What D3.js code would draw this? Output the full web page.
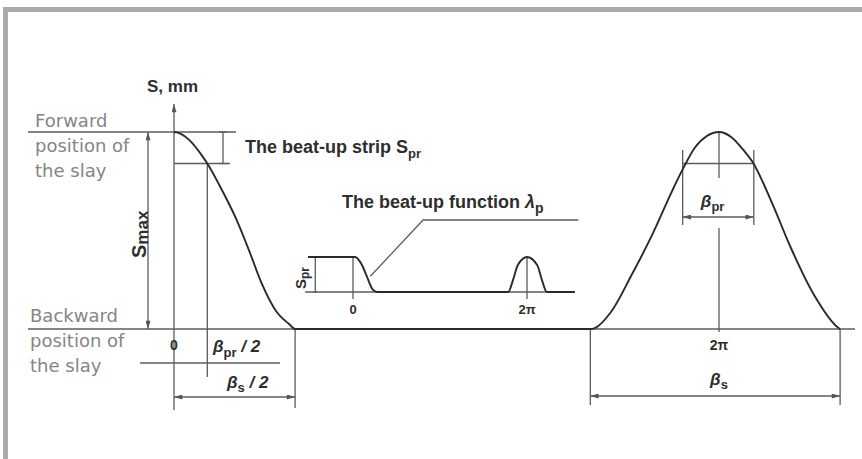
<!DOCTYPE html>
<html lang="en">
<head>
<meta charset="UTF-8">
<script src="https://d3js.org/d3.v7.min.js"></script>
<title>Slay motion and beat-up function</title>
<style>
  body { margin: 0; background: #fff; }
  svg { display: block; }
  .thin { stroke: #5c5c5c; stroke-width: 1.3; fill: none; }
  .curve { stroke: #2a2a2a; stroke-width: 1.9; fill: none; }
  .side { font-family: "DejaVu Sans", sans-serif; font-size: 18px; fill: #858585; }
  .bold { font-family: "Liberation Sans", Arial, sans-serif; font-weight: bold; fill: #2e2e2e; }
</style>
</head>
<body>
<div id="chart"></div>
<script>
const width = 862, height = 459;

// slay displacement, main cycle: crank angle (deg) vs % of Smax
const leftAngle = [0, 2, 10, 18.5, 22, 30, 41, 50, 58, 67.5, 76, 80];
const leftS     = [100, 99.8, 96, 88, 84, 73, 56, 39, 23, 9, 2.5, 0];
const bellAngle = [275, 278, 289, 302, 316, 329, 336, 344, 352, 360, 368, 376, 382, 395, 407, 423, 439, 440];
const bellS     = [0, 0.5, 9, 27, 48, 70, 81, 92, 98, 100, 97.5, 91, 85, 64, 42, 17, 0.5, 0];

// beat-up function (inset): angle vs lambda_p (share of Spr)
const beatAngle  = [-93, 4, 18.6, 29, 41.4, 50, 321, 331, 341, 360, 381, 391, 401, 459];
const beatLambda = [1, 1, 0.77, 0.43, 0.06, 0, 0, 0.34, 0.77, 1, 0.77, 0.34, 0, 0];

// dimensions (deg / % Smax) and tick labels
const betaPrHalf = 22;
const betaSHalf = 80;
const betaPr = [336, 383];
const betaS = [275, 440];
const sPrLevel = 84;
const tickAngles = [0, 360];
const tickLabels = ["0", "2π"];

const x = d3.scaleLinear().domain([0, 360]).range([174, 719]);
const y = d3.scaleLinear().domain([0, 100]).range([329, 132]);
const xi = d3.scaleLinear().domain([0, 360]).range([353, 527]);
const yi = d3.scaleLinear().domain([0, 1]).range([292, 257]);

const svg = d3.select("#chart").append("svg")
    .attr("width", width)
    .attr("height", height);

const defs = svg.append("defs");
defs.append("marker")
    .attr("id", "arr")
    .attr("viewBox", "0 0 10 6")
    .attr("refX", 10).attr("refY", 3)
    .attr("markerWidth", 9).attr("markerHeight", 5)
    .attr("markerUnits", "userSpaceOnUse")
    .attr("orient", "auto-start-reverse")
    .append("path")
    .attr("d", "M0,0 L10,3 L0,6 Z")
    .attr("fill", "#555");

// frame
svg.append("rect").attr("x", 3).attr("y", 7).attr("width", width - 3).attr("height", 5).attr("fill", "#ababab");
svg.append("rect").attr("x", 3).attr("y", 7).attr("width", 5).attr("height", height - 7).attr("fill", "#ababab");

function seg(x1, y1, x2, y2, arrows) {
    const l = svg.append("line")
        .attr("class", "thin")
        .attr("x1", x1).attr("y1", y1)
        .attr("x2", x2).attr("y2", y2);
    if (arrows) {
        l.attr("marker-start", "url(#arr)").attr("marker-end", "url(#arr)");
    }
    return l;
}

// forward / backward positions
seg(28, y(100), x(0) + 62, y(100));
seg(28, y(0), 855, y(0));

// S axis
svg.append("line")
    .attr("class", "thin")
    .attr("x1", x(0)).attr("y1", 410)
    .attr("x2", x(0)).attr("y2", 104)
    .attr("marker-end", "url(#arr)");

// Smax dimension
seg(148, y(100), 148, y(0), true);

// beat-up strip
seg(x(0), y(sPrLevel), x(0) + 56, y(sPrLevel));
seg(x(0) + 49, y(100), x(0) + 49, y(sPrLevel));
seg(x(0) + 45, y(100), x(0) + 53, y(100));
seg(x(0) + 45, y(sPrLevel), x(0) + 53, y(sPrLevel));

// beta_pr / 2 and beta_s / 2 dimensions
seg(x(betaPrHalf), y(sPrLevel), x(betaPrHalf), 377);
seg(140, 363, 280, 363);
seg(x(betaSHalf), y(0), x(betaSHalf), 408);
seg(x(0), 397, x(betaSHalf), 397, true);

// right bell dimensions
const cx = x(360);
seg(cx, y(100), cx, 178);
seg(cx, 228, cx, 332);
seg(x(betaPr[0]), y(sPrLevel), x(betaPr[1]), y(sPrLevel));
seg(x(betaPr[0]), 150, x(betaPr[0]), 225);
seg(x(betaPr[1]), 150, x(betaPr[1]), 225);
seg(x(betaPr[0]), 217, x(betaPr[1]), 217, true);
seg(x(betaS[0]), y(0), x(betaS[0]), 405);
seg(x(betaS[1]), y(0), x(betaS[1]), 405);
seg(x(betaS[0]), 396, x(betaS[1]), 396, true);

// slay curve
const line = d3.line()
    .x(d => x(d[0]))
    .y(d => y(d[1]))
    .curve(d3.curveMonotoneX);
svg.append("path")
    .attr("class", "curve")
    .attr("d", line(d3.zip(leftAngle.concat(bellAngle), leftS.concat(bellS))));

// inset: beat-up function
seg(xi(-99), yi(0), xi(459), yi(0));
seg(xi(-78), yi(1), xi(-78), yi(0));
seg(xi(-82), yi(1), xi(-74), yi(1));
seg(xi(-82), yi(0), xi(-74), yi(0));
tickAngles.forEach(a => seg(xi(a), yi(1), xi(a), yi(0) + 7));

const iline = d3.line()
    .x(d => xi(d[0]))
    .y(d => yi(d[1]))
    .curve(d3.curveMonotoneX);
svg.append("path")
    .attr("class", "curve")
    .attr("stroke-width", 1.8)
    .attr("d", iline(d3.zip(beatAngle, beatLambda)));

// leader line to the beat-up function
svg.append("polyline")
    .attr("class", "thin")
    .attr("points", [[xi(36), yi(0.45)], [xi(145), yi(1) - 37], [xi(466), yi(1) - 37]].join(" "));

// left side labels
const side = [
    { t: "Forward", x: 35, y: 127 },
    { t: "position of", x: 35, y: 152 },
    { t: "the slay", x: 35, y: 177 },
    { t: "Backward", x: 30, y: 322 },
    { t: "position of", x: 30, y: 347 },
    { t: "the slay", x: 30, y: 372 }
];
svg.selectAll("text.side")
    .data(side)
    .enter()
    .append("text")
    .attr("class", "side")
    .attr("x", d => d.x)
    .attr("y", d => d.y)
    .text(d => d.t);

function label(px, py, size, parts, extra) {
    const t = svg.append("text")
        .attr("class", "bold")
        .attr("x", px).attr("y", py)
        .attr("font-size", size);
    if (extra) t.attr("transform", extra);
    parts.forEach(p => {
        const s = t.append("tspan").text(p.t);
        if (p.size) s.attr("font-size", p.size);
        if (p.dy) s.attr("dy", p.dy);
        if (p.italic) s.attr("font-style", "italic");
    });
    return t;
}

label(147, 92, 17, [{ t: "S, mm" }]);
label(245, 153, 18, [{ t: "The beat-up strip S" }, { t: "pr", size: 13, dy: 5 }]);
label(342, 208, 18, [{ t: "The beat-up function " }, { t: "λ", italic: true }, { t: "p", size: 14, dy: 5 }]);

// rotated dimension labels
label(0, 0, 20, [{ t: "S" }, { t: "max", size: 17, dy: 2 }], "translate(146,258) rotate(-90)");
label(0, 0, 15, [{ t: "S" }, { t: "pr", size: 12, dy: 3 }], "translate(306,289) rotate(-90)");

// tick labels
tickAngles.forEach((a, i) => {
    label(x(a), 350, 14, [{ t: tickLabels[i] }]).attr("text-anchor", "middle");
    label(xi(a), 314, 13, [{ t: tickLabels[i] }]).attr("text-anchor", "middle");
});

// beta labels
label(213, 352, 17, [{ t: "β", italic: true }, { t: "pr", size: 13, dy: 5 }, { t: " / 2", dy: -5, italic: true }]);
label(227, 388, 17, [{ t: "β", italic: true }, { t: "s", size: 13, dy: 4 }, { t: " / 2", dy: -4, italic: true }]);
label(x(348), 207, 17, [{ t: "β", italic: true }, { t: "pr", size: 13, dy: 4 }]);
label(x(360), 385, 17, [{ t: "β", italic: true }, { t: "s", size: 13, dy: 4 }]).attr("text-anchor", "middle");
</script>
</body>
</html>
